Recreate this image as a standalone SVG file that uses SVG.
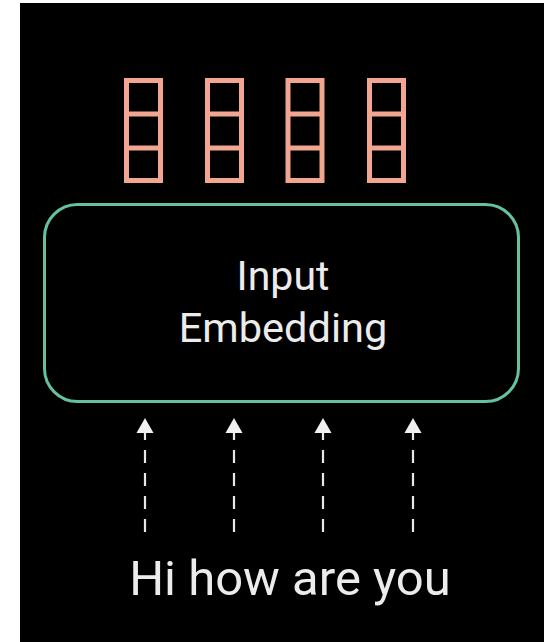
<svg xmlns="http://www.w3.org/2000/svg" width="544" height="642" viewBox="0 0 544 642">
  <style>
    .vec { fill: none; stroke: #f2a590; stroke-width: 5; }
    .box { fill: #000; stroke: #62c2a2; stroke-width: 3; }
    .lbl { fill: #ececec; font-family: Roboto, "Liberation Sans", sans-serif; text-anchor: middle; }
    .edge { stroke: #e8e8e8; stroke-width: 2.2; stroke-dasharray: 13 10; fill: none; }
    .head { fill: #f0f0f0; }
  </style>
  <rect x="0" y="0" width="544" height="642" fill="#ffffff"/>
  <rect x="20" y="3" width="524" height="639" fill="#000000"/>

  <g id="vec1">
    <rect class="vec" x="126.5" y="80.5" width="34" height="100"/>
    <line class="vec" x1="126.5" y1="114" x2="160.5" y2="114"/>
    <line class="vec" x1="126.5" y1="148" x2="160.5" y2="148"/>
  </g>
  <g id="vec2">
    <rect class="vec" x="207.5" y="80.5" width="34" height="100"/>
    <line class="vec" x1="207.5" y1="114" x2="241.5" y2="114"/>
    <line class="vec" x1="207.5" y1="148" x2="241.5" y2="148"/>
  </g>
  <g id="vec3">
    <rect class="vec" x="288" y="80.5" width="34" height="100"/>
    <line class="vec" x1="288" y1="114" x2="322" y2="114"/>
    <line class="vec" x1="288" y1="148" x2="322" y2="148"/>
  </g>
  <g id="vec4">
    <rect class="vec" x="369.5" y="80.5" width="34" height="100"/>
    <line class="vec" x1="369.5" y1="114" x2="403.5" y2="114"/>
    <line class="vec" x1="369.5" y1="148" x2="403.5" y2="148"/>
  </g>

  <g id="embedding">
    <rect class="box" x="44.5" y="204.5" width="474" height="197" rx="33" ry="33"/>
    <text class="lbl" x="283" y="290" font-size="41">Input</text>
    <text class="lbl" x="283" y="342" font-size="41.5">Embedding</text>
  </g>

  <g id="connectors">
    <line class="edge" x1="145" y1="532" x2="145" y2="433"/>
    <path class="head" d="M145,418 L136.5,433 L153.5,433 z"/>
    <line class="edge" x1="234" y1="532" x2="234" y2="433"/>
    <path class="head" d="M234,418 L225.5,433 L242.5,433 z"/>
    <line class="edge" x1="323" y1="532" x2="323" y2="433"/>
    <path class="head" d="M323,418 L314.5,433 L331.5,433 z"/>
    <line class="edge" x1="413" y1="532" x2="413" y2="433"/>
    <path class="head" d="M413,418 L404.5,433 L421.5,433 z"/>
  </g>

  <g id="input">
    <text class="lbl" x="290" y="595" font-size="49">Hi how are you</text>
  </g>
</svg>
